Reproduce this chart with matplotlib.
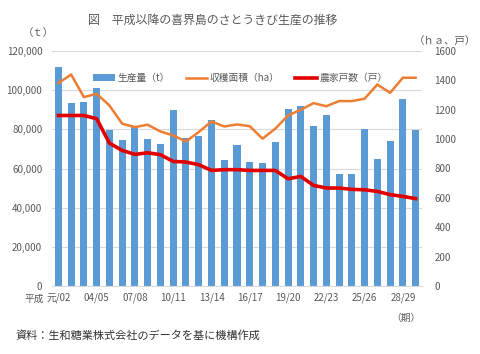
import matplotlib
matplotlib.use('Agg')
import matplotlib.pyplot as plt
import numpy as np

plt.rcParams['font.family'] = ['Noto Sans CJK JP', 'DejaVu Sans']

# 期 (平成元/02 ～ 29/30)
periods = ['元/02', '02/03', '03/04', '04/05', '05/06', '06/07', '07/08', '08/09',
           '09/10', '10/11', '11/12', '12/13', '13/14', '14/15', '15/16', '16/17',
           '17/18', '18/19', '19/20', '20/21', '21/22', '22/23', '23/24', '24/25',
           '25/26', '26/27', '27/28', '28/29', '29/30']

# 生産量 (t)
production = [111800, 93500, 94000, 101200, 79900, 74400, 81200, 75000, 72700,
              89800, 75800, 76500, 85000, 64200, 71900, 63400, 63000, 73600,
              90600, 91800, 81600, 87200, 57400, 57400, 80000, 64600, 73900,
              95700, 79900]

# 収穫面積 (ha)
area = [1381, 1440, 1286, 1309, 1229, 1105, 1082, 1098, 1052, 1025, 984, 1048,
        1120, 1086, 1100, 1088, 1003, 1071, 1161, 1200, 1245, 1224, 1259, 1259,
        1275, 1372, 1315, 1418, 1418]

# 農家戸数 (戸)
farms = [1161, 1161, 1161, 1139, 973, 923, 896, 907, 894, 848, 844, 826, 787,
         792, 792, 787, 787, 787, 730, 746, 685, 667, 667, 658, 655, 644, 622,
         610, 595]

shown_labels = ['元/02', '04/05', '07/08', '10/11', '13/14', '16/17', '19/20',
                '22/23', '25/26', '28/29']

gray = '#595959'
x = np.arange(len(periods))

fig = plt.figure(figsize=(4.8, 3.54), dpi=100)
ax = fig.add_axes([52/480, 1-286/354, 370/480, 235/354])
ax2 = ax.twinx()

bars = ax.bar(x, production, width=0.55, color='#5b9bd5', label='生産量（t）')
l1, = ax2.plot(x, area, color='#ed7d31', lw=1.8, label='収穫面積（ha）')
l2, = ax2.plot(x, farms, color='#e00000', lw=2.6, label='農家戸数（戸）')

ax.set_xlim(-0.5, len(periods) - 0.5)
ax.set_ylim(0, 120000)
ax2.set_ylim(0, 1600)
ax.set_yticks(np.arange(0, 120001, 20000))
ax.set_yticklabels([f'{v:,}' for v in range(0, 120001, 20000)])
ax2.set_yticks(np.arange(0, 1601, 200))

ticks = [periods.index(s) for s in shown_labels]
ax.set_xticks(ticks)
ax.set_xticklabels(shown_labels)

ax.grid(axis='y', color='#d9d9d9', lw=0.8)
ax.set_axisbelow(True)
for a in (ax, ax2):
    for s in a.spines.values():
        s.set_visible(False)
    a.tick_params(length=0, labelsize=7, colors=gray)
ax.spines['bottom'].set_visible(True)
ax.spines['bottom'].set_color('#d9d9d9')
ax.tick_params(axis='y', pad=7)
ax2.tick_params(axis='y', pad=9)
ax.tick_params(axis='x', pad=5)

ax2.legend(handles=[bars, l1, l2], loc='center', bbox_to_anchor=(0.51, 0.885),
           ncol=3, frameon=False, fontsize=7, labelcolor=gray,
           handlelength=2.2, columnspacing=1.6, handletextpad=0.3)

fig.text(88/480, 1-20/354, '図　平成以降の喜界島のさとうきび生産の推移',
         fontsize=8.6, color=gray, va='center')
fig.text(38/480, 1-33/354, '（ｔ）', fontsize=7.5, color=gray, va='center', ha='center')
fig.text(445/480, 1-42/354, '（ｈａ、戸）', fontsize=7.5, color=gray, va='center', ha='center')
fig.text(34/480, 1-299/354, '平成', fontsize=7, color=gray, va='center', ha='center')
fig.text(406/480, 1-318/354, '（期）', fontsize=7, color=gray, va='center', ha='center')
fig.text(15/480, 1-335/354, '資料：生和糖業株式会社のデータを基に機構作成',
         fontsize=8, color='#333333', va='center')

fig.savefig('out.png', dpi=100)
